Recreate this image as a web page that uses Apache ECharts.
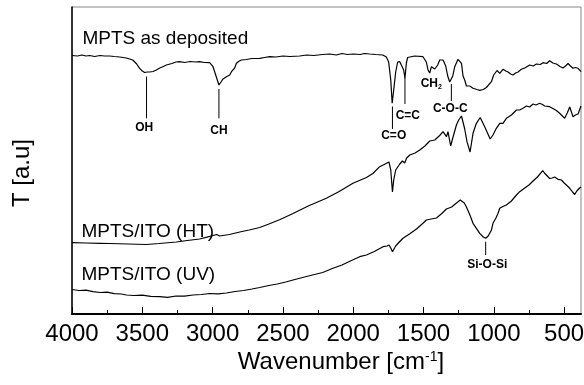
<!DOCTYPE html>
<html>
<head>
<meta charset="utf-8">
<script src="https://cdn.jsdelivr.net/npm/echarts@6/dist/echarts.min.js"></script>
<style>
  html, body { margin: 0; padding: 0; background: #fff; }
  #chart { width: 584px; height: 385px; }
</style>
</head>
<body>
<div id="chart"></div>
<script>
// FTIR transmittance spectra of MPTS films, stacked with vertical offsets (arbitrary units).
// Each spectrum: wavenumber [cm-1] and transmittance [a.u].
const depositedWn = [4000,3960,3930,3900,3874,3840,3800,3770,3732,3700,3660,3613,3568,3540,3519,3500,3483,3465,3447,3424,3400,3376,3350,3329,3290,3260,3234,3200,3160,3120,3092,3060,3021,2997,2978,2955,2940,2928,2915,2902,2891,2878,2866,2855,2843,2831,2810,2795,2760,2720,2665,2630,2594,2550,2500,2450,2381,2330,2280,2220,2167,2120,2080,2040,2000,1950,1920,1883,1840,1790,1764,1748,1733,1723,1712,1698,1684,1669,1655,1641,1632,1622,1613,1563,1504,1480,1468,1456,1444,1433,1420,1399,1385,1361,1342,1328,1314,1302,1292,1278,1255,1230,1219,1207,1195,1171,1160,1148,1120,1100,1075,1053,1017,1001,977,958,935,915,899,880,864,845,828,815,804,780,745,720,697,670,650,625,603,580,555,530,508,490,472,455,437,420,401,390,380];
const depositedT = [258.5,258,259,258,258.5,257.5,258.5,258,258,257.5,257,256,254,250,245.7,243,241.5,242,242,242.5,244,246,247.5,249,250.5,252,252.3,251.5,252.5,252,252.3,251.5,251.3,247.3,239,229,232,234.7,236,237.3,235.7,239,242.3,240.7,246,250.7,253,254,254.5,255.5,255.7,256.5,257.3,257,258,257.5,258,259,258.5,259.5,260,259,260.5,259.5,260,259.5,260.5,260,259.5,259,257,252,234,210.7,224,242,252,252.3,252,244,235.7,251,256.5,258,257.3,252,244,241,247.3,247.3,245,249,254,254,248,238,232,230,238,247.3,254.7,250.7,238,234,228,228,227,225.7,224.5,223.7,224.5,226.5,232.3,239,243.5,240.7,244.7,243,242,240,239,241,242,241.5,244.7,246,249,248,250,249.5,251.3,250.5,253.3,251,250,247.5,246,248,250.5,248,245.7,246.5,245.7,244,242.3];

const htWn = [4000,3900,3800,3732,3600,3471,3380,3258,3180,3092,3040,2997,2971,2950,2937,2880,2807,2740,2665,2600,2520,2428,2320,2191,2100,2002,1906,1860,1812,1780,1746,1733,1721,1712,1698,1669,1650,1634,1620,1598,1560,1527,1490,1456,1420,1385,1361,1337,1326,1307,1292,1266,1250,1230,1207,1191,1169,1148,1124,1097,1065,1026,1006,982,958,935,911,875,839,816,790,768,745,721,700,674,655,638,603,580,555,532,496,478,460,437,420,401,380];
const htT = [71.3,71,70.7,70.5,70,69.5,70.5,72,73.5,75,76.8,78.5,79.5,78,77.5,79.5,82,84,86.5,90,94.5,100.5,108,115.7,122.5,130.7,136.5,140.5,147.3,149.5,152,144,122,134,144,150,153,151,156,159,161,164,168,173,174,178.5,182.3,177.3,182.3,168,176,189,194,198,185,172.3,162,180.7,190.7,196.5,187.3,175,179,185.7,190.7,190.7,195.7,199,204,204,206,208,207,210,209,210.7,209.5,208,207.3,205.5,203.5,200.7,195.7,201,207,197.3,199,200,208];

const uvWn = [4000,3950,3900,3851,3800,3750,3700,3650,3613,3560,3500,3440,3376,3320,3260,3200,3139,3080,3020,2960,2902,2840,2780,2720,2665,2600,2540,2480,2428,2360,2290,2217,2144,2080,2020,1954,1906,1850,1788,1760,1745,1733,1721,1710,1698,1669,1646,1600,1550,1504,1480,1445,1408,1370,1337,1300,1270,1239,1229,1210,1195,1170,1148,1124,1100,1075,1058,1040,1017,1006,985,970,958,935,911,875,839,816,780,750,721,690,652,640,626,603,585,567,544,519,500,484,460,440,425,410,403,390,380];
const uvT = [24.5,23.5,23.8,22.3,21.5,21.8,20.3,20,19,18.5,18.8,17.6,17.3,16.6,18,17.8,19,19.5,20.5,20.2,21,22.5,23.5,25,26.5,28.5,30,32,34,36.5,39,41.5,45.7,49,53,57.3,59,62.5,67.3,68,69,66,62.3,65,68,72.5,75.7,80,85,90.7,94,95,96,100.5,105,107,110.5,114,115,111,107,99,90.7,85.7,80.7,77,75.7,78,84,90.7,96,100.7,105.7,107.5,109,113,119,122.3,126,129,133,137,143.3,141,139,135.5,136,137,134.7,134,131,129,125.7,122,119.5,123,124,126,127];

// Band assignments: marker line from the dip down (or up) to its label
const bandWn = [3470, 2955, 1721, 1632, 1302, 1058];
const bandFrom = [237.5, 225, 207.5, 236, 230, 72.3];
const bandTo = [195.7, 195.7, 185, 210, 213, 59];

const bandLabelText = ['OH', 'CH', 'C=O', 'C=C', 'CH2', 'C-O-C', 'Si-O-Si'];
const bandLabelWn = [3487, 2955, 1712, 1698, 1520, 1310, 1047];
const bandLabelT = [186.2, 183.2, 178, 198, 230, 205.7, 49];

const curveLabelText = ['MPTS as deposited', 'MPTS/ITO (HT)', 'MPTS/ITO (UV)'];
const curveLabelWn = [3926, 3933, 3933];
const curveLabelT = [275.7, 82.3, 39];

const majorTicks = [4000, 3500, 3000, 2500, 2000, 1500, 1000, 500];
const minorTicks = [3750, 3250, 2750, 2250, 1750, 1250, 750];

const FONT = "'Liberation Sans', Arial, Helvetica, sans-serif";
const zip = (xs, ys) => xs.map((x, i) => [x, ys[i]]);

const spectrum = (data) => ({
  type: 'line', data, xAxisIndex: 0, yAxisIndex: 0,
  showSymbol: false, symbol: 'none', silent: true, animation: false,
  lineStyle: { color: '#000', width: 1.2 }
});

const bandLines = bandWn.map((w, i) => ({
  type: 'line', data: [[w, bandFrom[i]], [w, bandTo[i]]],
  showSymbol: false, symbol: 'none', silent: true, animation: false,
  lineStyle: { color: '#000', width: 1 }
}));

const leftAligned = new Set(['C=C', 'CH2']);
const bandLabelSeries = {
  type: 'scatter', symbolSize: 0, silent: true, animation: false,
  itemStyle: { opacity: 1 },
  data: bandLabelText.map((t, i) => ({
    name: t, value: [bandLabelWn[i], bandLabelT[i]],
    label: {
      show: true, opacity: 1,
      position: leftAligned.has(t) ? 'right' : 'inside',
      distance: 0,
      formatter: t === 'CH2' ? '{m|CH}{sub|2}' : '{m|' + t + '}',
      rich: {
        m: { fontFamily: FONT, fontSize: 12, fontWeight: 'bold', color: '#000' },
        sub: { fontFamily: FONT, fontSize: 7, fontWeight: 'bold', color: '#000', verticalAlign: 'bottom', padding: [6, 0, 0, 0] }
      }
    }
  }))
};

const curveLabelSeries = {
  type: 'scatter', symbolSize: 0, silent: true, animation: false,
  itemStyle: { opacity: 1 },
  data: curveLabelText.map((t, i) => ({
    name: t, value: [curveLabelWn[i], curveLabelT[i]],
    label: {
      show: true, opacity: 1, position: 'right', distance: 0, formatter: '{b}',
      fontFamily: FONT, fontSize: 19, color: '#000'
    }
  }))
};

const chart = echarts.init(document.getElementById('chart'), null, { renderer: 'canvas' });
chart.setOption({
  animation: false,
  backgroundColor: '#fff',
  grid: {
    left: 72, right: 3, top: 7, bottom: 71,
    containLabel: false, outerBoundsMode: 'none',
    show: true, borderColor: '#888', borderWidth: 1
  },
  xAxis: [
    {
      type: 'value', inverse: true, min: 380, max: 4000,
      axisLine: { show: true, lineStyle: { color: '#000', width: 2 } },
      axisTick: { show: true, inside: true, length: 7, customValues: majorTicks, lineStyle: { color: '#000', width: 1 } },
      axisLabel: {
        show: true, customValues: majorTicks, showMinLabel: true, showMaxLabel: true, hideOverlap: false,
        formatter: (v) => String(v),
        fontFamily: FONT, fontSize: 24, color: '#000', margin: 8
      },
      splitLine: { show: false }
    },
    {
      type: 'value', inverse: true, min: 380, max: 4000, position: 'bottom', gridIndex: 0,
      axisLine: { show: false },
      axisTick: { show: true, inside: true, length: 4, customValues: minorTicks, lineStyle: { color: '#000', width: 1 } },
      axisLabel: { show: false },
      splitLine: { show: false }
    }
  ],
  yAxis: {
    type: 'value', min: 0, max: 307,
    axisLine: { show: true, lineStyle: { color: '#000', width: 1.5 } },
    axisTick: { show: false }, axisLabel: { show: false }, splitLine: { show: false }
  },
  graphic: [
    {
      type: 'text', x: 341, y: 362, silent: true,
      style: {
        text: '{n|Wavenumber [cm}{s|-1}{n|]}',
        align: 'center', verticalAlign: 'middle',
        rich: {
          n: { fontFamily: FONT, fontSize: 24, fill: '#000' },
          s: { fontFamily: FONT, fontSize: 14, fill: '#000', verticalAlign: 'top' }
        }
      }
    },
    {
      type: 'text', x: 22, y: 173, rotation: Math.PI / 2, silent: true,
      style: { text: 'T [a.u]', fontFamily: FONT, fontSize: 24, fill: '#000', align: 'center', verticalAlign: 'middle' }
    }
  ],
  series: [
    spectrum(zip(depositedWn, depositedT)),
    spectrum(zip(htWn, htT)),
    spectrum(zip(uvWn, uvT)),
    ...bandLines,
    bandLabelSeries,
    curveLabelSeries
  ]
});
</script>
</body>
</html>
